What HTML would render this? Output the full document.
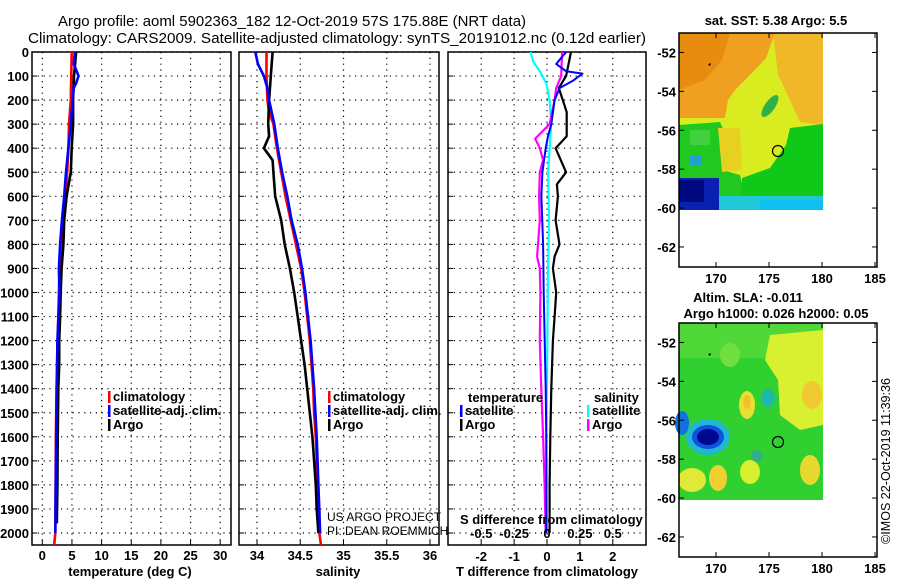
<!DOCTYPE html>
<html><head><meta charset="utf-8"><style>
html,body{margin:0;padding:0;background:#fff;}
svg{display:block;font-family:"Liberation Sans",sans-serif;}
.t{font-weight:bold;font-size:13px;}
.ti{font-size:14.5px;}
</style></head><body>
<svg id="chart" width="900" height="580" viewBox="0 0 900 580" xmlns="http://www.w3.org/2000/svg">
<text class="ti" x="58" y="26" textLength="468" lengthAdjust="spacingAndGlyphs">Argo profile: aoml 5902363_182 12-Oct-2019 57S 175.88E (NRT data)</text>
<text class="ti" x="28" y="43" textLength="618" lengthAdjust="spacingAndGlyphs">Climatology: CARS2009. Satellite-adjusted climatology: synTS_20191012.nc (0.12d earlier)</text>
<g id="p1"></g>
<g id="p2"></g>
<g id="p3"></g>
<g id="maps"></g>
<text x="0" y="0" font-size="12.5" transform="translate(890,544) rotate(-90)" textLength="166" lengthAdjust="spacingAndGlyphs">©IMOS 22-Oct-2019 11:39:36</text>
</svg>
<script>
// ---- data ----
const depthTicks=[0,100,200,300,400,500,600,700,800,900,1000,1100,1200,1300,1400,1500,1600,1700,1800,1900,2000];
const tempTicks=[0,5,10,15,20,25,30];
const salTicks=[34,34.5,35,35.5,36];
const dTTicks=[-2,-1,0,1,2];
const dSTicks=[-0.5,-0.25,0,0.25,0.5];
const dSTickLabels=['-0.5','-0.25','0','0.25','0.5'];

const tClimDepth=[0,200,300,400,500,600,700,800,900,1000,1200,1400,1600,1800,2000,2050];
const tClim=[4.95,4.8,4.5,4.4,4.2,3.9,3.4,3.15,2.9,2.8,2.6,2.4,2.3,2.25,2.2,2.0];
const tSatDepth=[0,50,80,100,130,150,200,300,400,500,600,700,800,900,1000,1200,1400,1600,2000];
const tSat=[5.5,5.3,5.8,6.1,5.7,5.3,5.1,4.8,4.4,4.0,3.7,3.3,3.0,2.8,2.9,2.55,2.45,2.35,2.2];
const tArgoDepth=[0,100,200,300,400,500,600,700,800,900,1000,1100,1200,1300,1400,1600,1800,1960];
const tArgo=[5.7,5.35,5.2,5.2,4.95,4.8,4.1,3.7,3.55,3.25,3.1,3.0,2.85,2.85,2.7,2.6,2.55,2.45];

const sClimDepth=[0,100,200,250,300,400,500,600,700,800,900,1000,1100,1200,1300,1400,1500,1600,1700,1800,1900,2000,2050];
const sClim=[34.11,34.11,34.12,34.14,34.19,34.23,34.28,34.33,34.39,34.45,34.51,34.55,34.58,34.61,34.63,34.65,34.66,34.68,34.69,34.70,34.72,34.72,34.74];
const sSatDepth=[0,50,100,150,200,300,400,500,600,700,800,900,1000,1200,1400,1600,1800,2000];
const sSat=[33.98,34.01,34.08,34.12,34.14,34.20,34.24,34.29,34.35,34.40,34.47,34.52,34.56,34.62,34.66,34.69,34.71,34.73];
const sArgoDepth=[0,100,200,300,350,400,450,500,600,700,800,900,1000,1100,1200,1300,1400,1500,1600,1700,1800,1900,2000];
const sArgo=[34.18,34.16,34.14,34.13,34.14,34.08,34.18,34.19,34.21,34.28,34.32,34.38,34.43,34.47,34.51,34.55,34.58,34.61,34.64,34.66,34.68,34.69,34.71];

const dTSatDepth=[0,50,80,90,120,150,200,300,350,400,500,600,800,1000,1200,1400,1600,2000];
const dTSat=[0.58,0.28,0.58,1.08,0.78,0.38,0.23,0.13,0.03,-0.04,-0.14,-0.17,-0.12,-0.1,-0.07,-0.04,-0.02,-0.02];
const dTArgoDepth=[0,100,150,200,250,350,400,500,550,600,700,800,850,900,1000,1100,1200,1400,1600,1800,2000];
const dTArgo=[0.73,0.58,0.36,0.48,0.6,0.6,0.26,0.58,0.3,0.33,0.26,0.38,0.23,0.18,0.28,0.23,0.18,0.13,0.1,0.08,0.08];
const dSSatDepth=[0,40,80,130,200,300,400,500,700,900,1200,1600,2000];
const dSSat=[-0.125,-0.105,-0.055,-0.005,0.02,0.032,0.02,0.008,0.015,0.008,0.003,-0.005,0.0];
const dSArgoDepth=[0,100,150,200,300,360,400,450,500,600,700,850,900,1000,1200,1400,1600,1800,2000];
const dSArgo=[0.115,0.108,0.07,0.058,0.02,-0.09,-0.055,-0.03,-0.055,-0.06,-0.055,-0.075,-0.055,-0.05,-0.055,-0.043,-0.03,-0.018,-0.01];

// ---- helpers ----
const NS='http://www.w3.org/2000/svg';
function mk(parent,tag,attrs,txt){const e=document.createElementNS(NS,tag);for(const k in attrs)e.setAttribute(k,attrs[k]);if(txt!==undefined)e.textContent=txt;parent.appendChild(e);return e;}
const yD=d=>52+d*0.2405;
const TOP=52,BOT=545;
const xT=v=>42.3+v*5.93;
const xS=v=>257+(v-34)*86.5;
const xDT=v=>547+v*32.9;
const xDS=v=>547+v*131.5;

function frame(g,l,r,xt,xf,labels,labY){
  depthTicks.forEach(d=>{const l1=mk(g,'line',{x1:l,x2:r,y1:yD(d),y2:yD(d),stroke:'#000','stroke-dasharray':'1.2,4.6','stroke-width':1.2});
    
    
    mk(g,'line',{x1:l,x2:l+5,y1:yD(d),y2:yD(d),stroke:'#000'});});
  xt.forEach((v,i)=>{const x=xf(v);const l2=mk(g,'line',{x1:x,x2:x,y1:TOP,y2:BOT,stroke:'#000','stroke-dasharray':'1.2,4.6','stroke-width':1.2});
    
    
    mk(g,'line',{x1:x,x2:x,y1:BOT,y2:BOT-5,stroke:'#000'});
    if(labels){const t=mk(g,'text',{x:x,y:labY,'text-anchor':'middle',class:'t'},labels[i]);
      
      }});
  const f=mk(g,'rect',{x:l,y:TOP,width:r-l,height:BOT-TOP,fill:'none',stroke:'#000','stroke-width':1.5});
  
  
}
function stepLine(g,depths,vals,xf,color,name,w){
  let d='';
  for(let i=0;i<depths.length;i++){const x=xf(vals[i]),y=yD(depths[i]);d+=(i?'L':'M')+x.toFixed(1)+','+y.toFixed(1);}
  const p=mk(g,'path',{d:d,fill:'none',stroke:color,'stroke-width':w||2.6,'stroke-linejoin':'round'});
  
  
}
function legend(g,x,y,color,txt,name){
  mk(g,'rect',{x:x,y:y-10,width:2.5,height:12,fill:color});
  const t=mk(g,'text',{x:x+5,y:y,class:'t'},txt);
  
  
}

// ---- panel 1 ----
const p1=document.getElementById('p1');
frame(p1,32,231,tempTicks,xT,tempTicks.map(String),560);
depthTicks.forEach(d=>{const t=mk(p1,'text',{x:29,y:yD(d)+5,'text-anchor':'end',class:'t'},String(d));
  
  });
stepLine(p1,tClimDepth,tClim,xT,'#ff0000','temp-climatology-line');
stepLine(p1,tArgoDepth,tArgo,xT,'#000000','temp-argo-line');
stepLine(p1,tSatDepth,tSat,xT,'#0000ff','temp-satellite-line');
legend(p1,108,401,'#f00','climatology','legend-climatology');
legend(p1,108,415,'#00f','satellite-adj. clim.','legend-satellite');
legend(p1,108,429,'#000','Argo','legend-argo');
mk(p1,'text',{x:130,y:576,'text-anchor':'middle',class:'t'},'temperature (deg C)');

// ---- panel 2 ----
const p2=document.getElementById('p2');
frame(p2,239,439,salTicks,xS,salTicks.map(String),560);
stepLine(p2,sClimDepth,sClim,xS,'#ff0000','sal-climatology-line');
stepLine(p2,sArgoDepth,sArgo,xS,'#000000','sal-argo-line');
stepLine(p2,sSatDepth,sSat,xS,'#0000ff','sal-satellite-line');
legend(p2,328,401,'#f00','climatology','legend-climatology');
legend(p2,328,415,'#00f','satellite-adj. clim.','legend-satellite');
legend(p2,328,429,'#000','Argo','legend-argo');
mk(p2,'text',{x:327,y:521,'font-size':12},'US ARGO PROJECT');
mk(p2,'text',{x:327,y:535,'font-size':12},'PI: DEAN ROEMMICH');
mk(p2,'text',{x:338,y:576,'text-anchor':'middle',class:'t'},'salinity');

// ---- panel 3 ----
const p3=document.getElementById('p3');
frame(p3,448,646,dTTicks,xDT,dTTicks.map(String),561);
stepLine(p3,dSSatDepth,dSSat,xDS,'#00ffff','dS-satellite-line',2.2);
stepLine(p3,dSArgoDepth,dSArgo,xDS,'#ff00ff','dS-argo-line',2.2);
stepLine(p3,dTArgoDepth,dTArgo,xDT,'#000000','dT-argo-line',2.2);
stepLine(p3,dTSatDepth,dTSat,xDT,'#0000ff','dT-satellite-line',2.0);
mk(p3,'text',{x:468,y:402,class:'t'},'temperature');
legend(p3,460,415,'#00f','satellite','legend-t-satellite');
legend(p3,460,429,'#000','Argo','legend-t-argo');
mk(p3,'text',{x:594,y:402,class:'t'},'salinity');
legend(p3,587,415,'#0ff','satellite','legend-s-satellite');
legend(p3,587,429,'#f0f','Argo','legend-s-argo');
mk(p3,'text',{x:460,y:524,class:'t'},'S difference from climatology');
dSTicks.forEach((v,i)=>{const t=mk(p3,'text',{x:xDS(v),y:538,'text-anchor':'middle',class:'t'},dSTickLabels[i]);
  
  });
mk(p3,'text',{x:547,y:576,'text-anchor':'middle',class:'t'},'T difference from climatology');

// ---- maps ----
const maps=document.getElementById('maps');
const lonTicks=[170,175,180,185];
const latTicks=[-52,-54,-56,-58,-60,-62];
const xLon=v=>716+(v-170)*10.6;
function mapFrame(top,name,shapes,circY){
  const g=mk(maps,'g',{});
  
  
  const yLat=v=>top+(-51-v)*19.45;
  shapes(g,yLat);
  mk(g,'circle',{cx:778,cy:circY,r:5.5,fill:'none',stroke:'#000','stroke-width':1.2});
  mk(g,'path',{d:`M708,${yLat(-52.6)}l2,2l1,-3z`,fill:'#000'});
  const h=234;
  mk(g,'rect',{x:679,y:top,width:198,height:h,fill:'none',stroke:'#000','stroke-width':1.5});
  latTicks.forEach(v=>{const y=yLat(v);mk(g,'line',{x1:679,x2:684,y1:y,y2:y,stroke:'#000'});mk(g,'line',{x1:872,x2:877,y1:y,y2:y,stroke:'#000'});
    const t=mk(g,'text',{x:676,y:y+5,'text-anchor':'end',class:'t'},String(v));
    
    });
  lonTicks.forEach(v=>{const x=xLon(v);mk(g,'line',{x1:x,x2:x,y1:top,y2:top+5,stroke:'#000'});mk(g,'line',{x1:x,x2:x,y1:top+h,y2:top+h-5,stroke:'#000'});
    const t=mk(g,'text',{x:x,y:top+h+16,'text-anchor':'middle',class:'t'},String(v));
    
    });
}
mapFrame(33,'sst-map',(g)=>{
  mk(g,'rect',{x:679,y:33,width:144,height:177,fill:'#d8ec20'});
  mk(g,'path',{d:'M773,33L823,33L823,125L800,122L790,100L778,75Z',fill:'#f0b828'});
  mk(g,'path',{d:'M679,33L775,33L766,58L750,75L735,90L728,100L725,118L679,118Z',fill:'#f0a020'});
  mk(g,'path',{d:'M679,33L730,33L722,60L705,80L679,90Z',fill:'#e88c10'});
  mk(g,'path',{d:'M679,125L720,122L728,140L722,170L740,175L745,198L679,198Z',fill:'#20c820'});
  mk(g,'path',{d:'M790,128L823,124L823,210L740,210L742,178L770,168L786,145Z',fill:'#10c818'});
  mk(g,'rect',{x:690,y:130,width:20,height:15,fill:'#40d040'});
  mk(g,'path',{d:'M718,128L740,128L742,170L722,172Z',fill:'#e8d020'});
  mk(g,'ellipse',{cx:770,cy:106,rx:5,ry:13,fill:'#30b048',transform:'rotate(35 770 106)'});
  mk(g,'rect',{x:679,y:178,width:40,height:32,fill:'#0a20b0'});
  mk(g,'rect',{x:679,y:180,width:25,height:22,fill:'#000a80'});
  mk(g,'rect',{x:690,y:155,width:12,height:10,fill:'#20a0d0'});
  mk(g,'rect',{x:719,y:196,width:104,height:14,fill:'#20c8d8'});
  mk(g,'rect',{x:760,y:200,width:63,height:10,fill:'#10c0f0'});
},151);
mk(maps,'text',{x:776,y:25,'text-anchor':'middle',class:'t'},'sat. SST: 5.38 Argo: 5.5');
mapFrame(323,'sla-map',(g)=>{
  mk(g,'rect',{x:679,y:323,width:144,height:177,fill:'#30d030'});
  mk(g,'rect',{x:679,y:323,width:144,height:35,fill:'#50d838'});
  mk(g,'path',{d:'M770,335L823,330L823,425L800,430L780,415L778,380L765,360Z',fill:'#d8f030'});
  mk(g,'ellipse',{cx:812,cy:395,rx:10,ry:14,fill:'#f0c830'});
  mk(g,'ellipse',{cx:747,cy:405,rx:8,ry:14,fill:'#e8e030'});
  mk(g,'ellipse',{cx:747,cy:402,rx:4,ry:7,fill:'#f0c030'});
  mk(g,'ellipse',{cx:768,cy:398,rx:7,ry:9,fill:'#20b8a8'});
  mk(g,'ellipse',{cx:708,cy:437,rx:22,ry:18,fill:'#20b8d0'});
  mk(g,'ellipse',{cx:708,cy:437,rx:16,ry:12,fill:'#1050e0'});
  mk(g,'ellipse',{cx:708,cy:437,rx:11,ry:8,fill:'#000890'});
  mk(g,'ellipse',{cx:682,cy:423,rx:7,ry:12,fill:'#1070e0'});
  mk(g,'ellipse',{cx:692,cy:480,rx:14,ry:12,fill:'#e0e838'});
  mk(g,'ellipse',{cx:718,cy:478,rx:9,ry:13,fill:'#f0d030'});
  mk(g,'ellipse',{cx:750,cy:472,rx:10,ry:12,fill:'#d8f030'});
  mk(g,'ellipse',{cx:757,cy:456,rx:6,ry:6,fill:'#30b080'});
  mk(g,'ellipse',{cx:810,cy:470,rx:10,ry:15,fill:'#e8d830'});
  mk(g,'ellipse',{cx:730,cy:355,rx:10,ry:12,fill:'#70e040'});
},442);
mk(maps,'text',{x:748,y:302,'text-anchor':'middle',class:'t'},'Altim. SLA: -0.011');
mk(maps,'text',{x:776,y:318,'text-anchor':'middle',class:'t'},'Argo h1000: 0.026 h2000: 0.05');
</script>
</body></html>
